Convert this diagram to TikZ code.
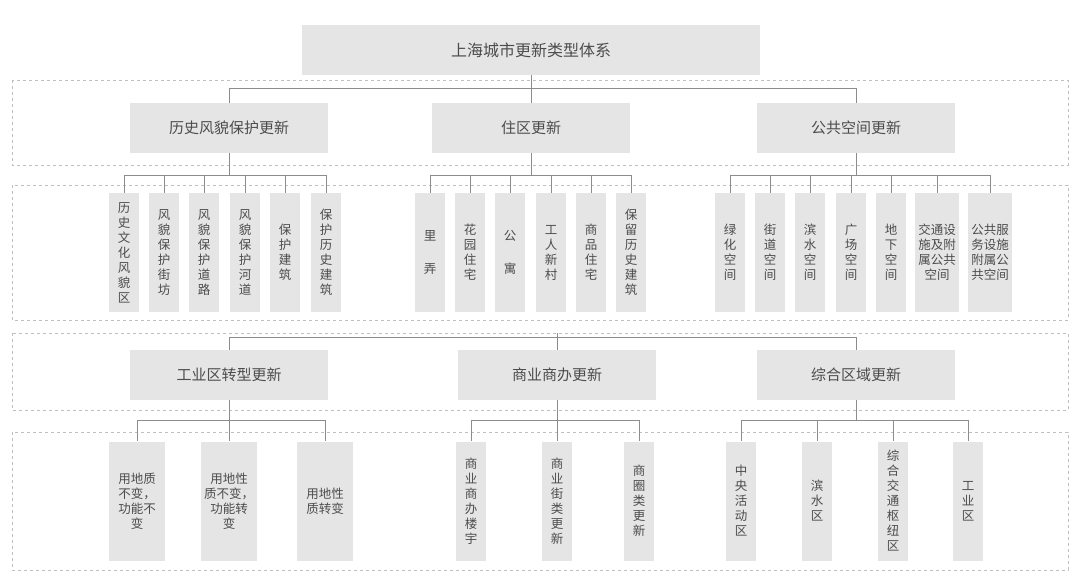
\documentclass[tikz,border=0pt]{standalone}
\usepackage{fontspec}
\setmainfont{Noto Sans CJK SC}
\usetikzlibrary{calc}
\begin{document}
\begin{tikzpicture}[x=1pt,y=-1pt,
  box/.style={fill=black!10,text=black!70,inner sep=0pt,align=center},
  big/.style={box,minimum width=198,minimum height=50,font=\fontsize{15}{18}\selectfont},
  leaf/.style={box,minimum width=30,minimum height=119,font=\fontsize{12.5}{15}\selectfont},
  dsh/.style={draw=black!25,dashed,line width=0.7pt},
  ln/.style={draw=black!45,line width=0.8pt}]
\useasboundingbox (0,0) rectangle (1080,575);
% dashed bands
\draw[dsh] (12,80) rectangle (1068,165);
\draw[dsh] (12,185) rectangle (1068,320);
\draw[dsh] (12,333) rectangle (1068,410);
\draw[dsh] (12,432) rectangle (1068,570);
% title
\node[box,minimum width=458,minimum height=50,font=\fontsize{16}{19}\selectfont] (t) at (531,50) {上海城市更新类型体系};
\node[big] (A) at (229,128) {历史风貌保护更新};
\node[big] (B) at (531,128) {住区更新};
\node[big] (C) at (856,128) {公共空间更新};
\coordinate (j1) at (531,88);
\draw[ln] (t.south) -- (j1);
\foreach \n in {A,B,C} \draw[ln] (j1) -| (\n.north);
% leaves row 1
\node[leaf] (a1) at (124,252.5) {历\\史\\文\\化\\风\\貌\\区};
\node[leaf] (a2) at (164,252.5) {风\\貌\\保\\护\\街\\坊};
\node[leaf] (a3) at (204,252.5) {风\\貌\\保\\护\\道\\路};
\node[leaf] (a4) at (245,252.5) {风\\貌\\保\\护\\河\\道};
\node[leaf] (a5) at (285,252.5) {保\\护\\建\\筑};
\node[leaf] (a6) at (326,252.5) {保\\护\\历\\史\\建\\筑};
\node[leaf] (b1) at (430,252.5) {里\\[18pt]弄};
\node[leaf] (b2) at (470,252.5) {花\\园\\住\\宅};
\node[leaf] (b3) at (510,252.5) {公\\[18pt]寓};
\node[leaf] (b4) at (551,252.5) {工\\人\\新\\村};
\node[leaf] (b5) at (591,252.5) {商\\品\\住\\宅};
\node[leaf] (b6) at (631,252.5) {保\\留\\历\\史\\建\\筑};
\node[leaf] (c1) at (730,252.5) {绿\\化\\空\\间};
\node[leaf] (c2) at (770,252.5) {街\\道\\空\\间};
\node[leaf] (c3) at (810,252.5) {滨\\水\\空\\间};
\node[leaf] (c4) at (851,252.5) {广\\场\\空\\间};
\node[leaf] (c5) at (891,252.5) {地\\下\\空\\间};
\node[leaf,minimum width=44] (c6) at (937,252.5) {交通设\\施及附\\属公共\\空间};
\node[leaf,minimum width=44] (c7) at (990,252.5) {公共服\\务设施\\附属公\\共空间};
\foreach \p/\l in {A/{a1,a2,a3,a4,a5,a6},B/{b1,b2,b3,b4,b5,b6},C/{c1,c2,c3,c4,c5,c6,c7}}{
  \coordinate (j\p) at ($(\p.south)+(0,22)$);
  \draw[ln] (\p.south) -- (j\p);
  \foreach \q in \l \draw[ln] (j\p) -| (\q.north);
}
% lower half
\node[big] (D) at (229,375) {工业区转型更新};
\node[big] (E) at (557,375) {商业商办更新};
\node[big] (F) at (856,375) {综合区域更新};
\coordinate (s3) at (557,333);
\coordinate (j3) at (557,337);
\draw[ln] (s3) -- (j3);
\foreach \n in {D,E,F} \draw[ln] (j3) -| (\n.north);
\node[leaf,minimum width=56] (d1) at (137,501) {用地质\\不变，\\功能不\\变};
\node[leaf,minimum width=56] (d2) at (229,501) {用地性\\质不变，\\功能转\\变};
\node[leaf,minimum width=56] (d3) at (325,501) {用地性\\质转变};
\node[leaf] (e1) at (471,501) {商\\业\\商\\办\\楼\\宇};
\node[leaf] (e2) at (557,501) {商\\业\\街\\类\\更\\新};
\node[leaf] (e3) at (639,501) {商\\圈\\类\\更\\新};
\node[leaf] (f1) at (741,501) {中\\央\\活\\动\\区};
\node[leaf] (f2) at (817,501) {滨\\水\\区};
\node[leaf] (f3) at (893,501) {综\\合\\交\\通\\枢\\纽\\区};
\node[leaf] (f4) at (968,501) {工\\业\\区};
\foreach \p/\l in {D/{d1,d2,d3},E/{e1,e2,e3},F/{f1,f2,f3,f4}}{
  \coordinate (k\p) at ($(\p.south)+(0,20)$);
  \draw[ln] (\p.south) -- (k\p);
  \foreach \q in \l \draw[ln] (k\p) -| (\q.north);
}
\end{tikzpicture}
\end{document}
